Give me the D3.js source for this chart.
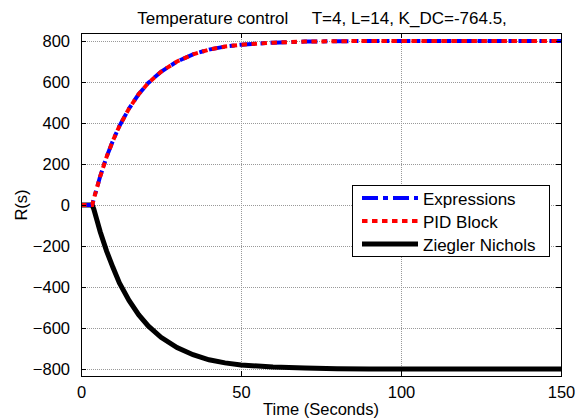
<!DOCTYPE html>
<html><head><meta charset="utf-8">
<script src="https://cdn.jsdelivr.net/npm/d3@7"></script>
<style>body{margin:0;background:#fff}text{font-family:"Liberation Sans",Arial,sans-serif}</style>
</head><body><svg id="c" width="576" height="419"></svg>
<script>
const time = [0,3,3.5,4,5,6,8,10,12,15,18,21,25,30,35,40,45,50,60,70,80,90,100,120,150];
const expressions = [0,0,0,30,85,140,235,315,385,470,540,595,650,700,735,758,773,782,792,797,799,800,800,800,800];
const pidBlock = [0,0,0,30,85,140,235,315,385,470,540,595,650,700,735,758,773,782,792,797,799,800,800,800,800];
const zieglerNichols = [0,0,0,-20,-75,-130,-225,-305,-380,-465,-535,-590,-645,-695,-730,-755,-770,-780,-790,-795,-799,-800,-800,-800,-800];
const xTicks = [0,50,100,150];
const yTicks = [-800,-600,-400,-200,0,200,400,600,800];
const seriesNames = ["Expressions","PID Block","Ziegler Nichols"];
const titleText = "Temperature control     T=4, L=14, K_DC=-764.5,";

const svg = d3.select("#c");
const L=81,R=561,T=33,B=376;
const x = d3.scaleLinear().domain([0,150]).range([L,R]);
const y = d3.scaleLinear().domain([-834,839]).range([B,T]);
const FS = 16.5;

// grid
const g = svg.append("g");
g.selectAll(".gx").data(xTicks.filter(d=>d>0&&d<150)).enter().append("line")
 .attr("x1",d=>Math.round(x(d))+0.5).attr("x2",d=>Math.round(x(d))+0.5).attr("y1",T).attr("y2",B)
 .attr("stroke","#999").attr("stroke-width",1).attr("stroke-dasharray","1,1");
g.selectAll(".gy").data(yTicks).enter().append("line")
 .attr("x1",L).attr("x2",R).attr("y1",d=>Math.round(y(d))+0.5).attr("y2",d=>Math.round(y(d))+0.5)
 .attr("stroke","#999").attr("stroke-width",1).attr("stroke-dasharray","1,1");

const line = vals => d3.line().x((d,i)=>x(time[i])).y(d=>y(d))(vals);
svg.append("clipPath").attr("id","cp").append("rect").attr("x",L).attr("y",T).attr("width",R-L).attr("height",B-T);
const plot = svg.append("g").attr("clip-path","url(#cp)");
const styles=[{c:"#0000ff",w:4,da:"16,5,5,5"},{c:"#ff0000",w:4,da:"5.5,4.5"},{c:"#000",w:5,da:null}];
plot.append("path").attr("d",line(zieglerNichols)).attr("fill","none").attr("stroke",styles[2].c).attr("stroke-width",styles[2].w);
plot.append("path").attr("d",line(expressions)).attr("fill","none").attr("stroke",styles[0].c).attr("stroke-width",styles[0].w).attr("stroke-dasharray",styles[0].da);
plot.append("path").attr("d",line(pidBlock)).attr("fill","none").attr("stroke",styles[1].c).attr("stroke-width",styles[1].w).attr("stroke-dasharray",styles[1].da);

// axes
const axB = d3.axisBottom(x).tickValues(xTicks).tickSizeInner(-5).tickSizeOuter(0).tickPadding(10);
const axT = d3.axisTop(x).tickValues(xTicks).tickSizeInner(-5).tickSizeOuter(0).tickFormat("");
const axL = d3.axisLeft(y).tickValues(yTicks).tickSizeInner(-5).tickSizeOuter(0).tickPadding(11);
const axR = d3.axisRight(y).tickValues(yTicks).tickSizeInner(-5).tickSizeOuter(0).tickFormat("");
function style(sel){sel.select(".domain").remove();sel.selectAll("line").attr("stroke","#000");sel.selectAll("text").attr("font-size",FS).attr("fill","#000").style("font-family","Liberation Sans, Arial, sans-serif");}
svg.append("g").attr("transform",`translate(0,${B})`).call(axB).call(style);
svg.append("g").attr("transform",`translate(0,${T})`).call(axT).call(style);
svg.append("g").attr("transform",`translate(${L},0)`).call(axL).call(style);
svg.append("g").attr("transform",`translate(${R},0)`).call(axR).call(style);
svg.append("rect").attr("x",L+0.5).attr("y",T+0.5).attr("width",R-L).attr("height",B-T).attr("fill","none").attr("stroke","#000").attr("stroke-width",1);

// labels
svg.append("text").attr("x",(L+R)/2+1).attr("y",23.5).attr("text-anchor","middle").attr("font-size",17).style("white-space","pre").text(titleText);
svg.append("text").attr("x",(L+R)/2).attr("y",415).attr("text-anchor","middle").attr("font-size",FS).text("Time (Seconds)");
svg.append("text").attr("transform",`translate(27,${y(0)}) rotate(-90)`).attr("text-anchor","middle").attr("font-size",FS).text("R(s)");

// legend
const lg = svg.append("g");
lg.append("rect").attr("x",352.5).attr("y",185.5).attr("width",197).attr("height",71).attr("fill","#fff").attr("stroke","#000");
seriesNames.forEach((n,i)=>{
  const yy=198+i*23;
  const ln=lg.append("line").attr("x1",362).attr("x2",418).attr("y1",yy).attr("y2",yy).attr("stroke",styles[i].c).attr("stroke-width",styles[i].w);
  if(styles[i].da) ln.attr("stroke-dasharray",styles[i].da);
  lg.append("text").attr("x",423).attr("y",yy+6.5).attr("font-size",17).text(n);
});
</script></body></html>
